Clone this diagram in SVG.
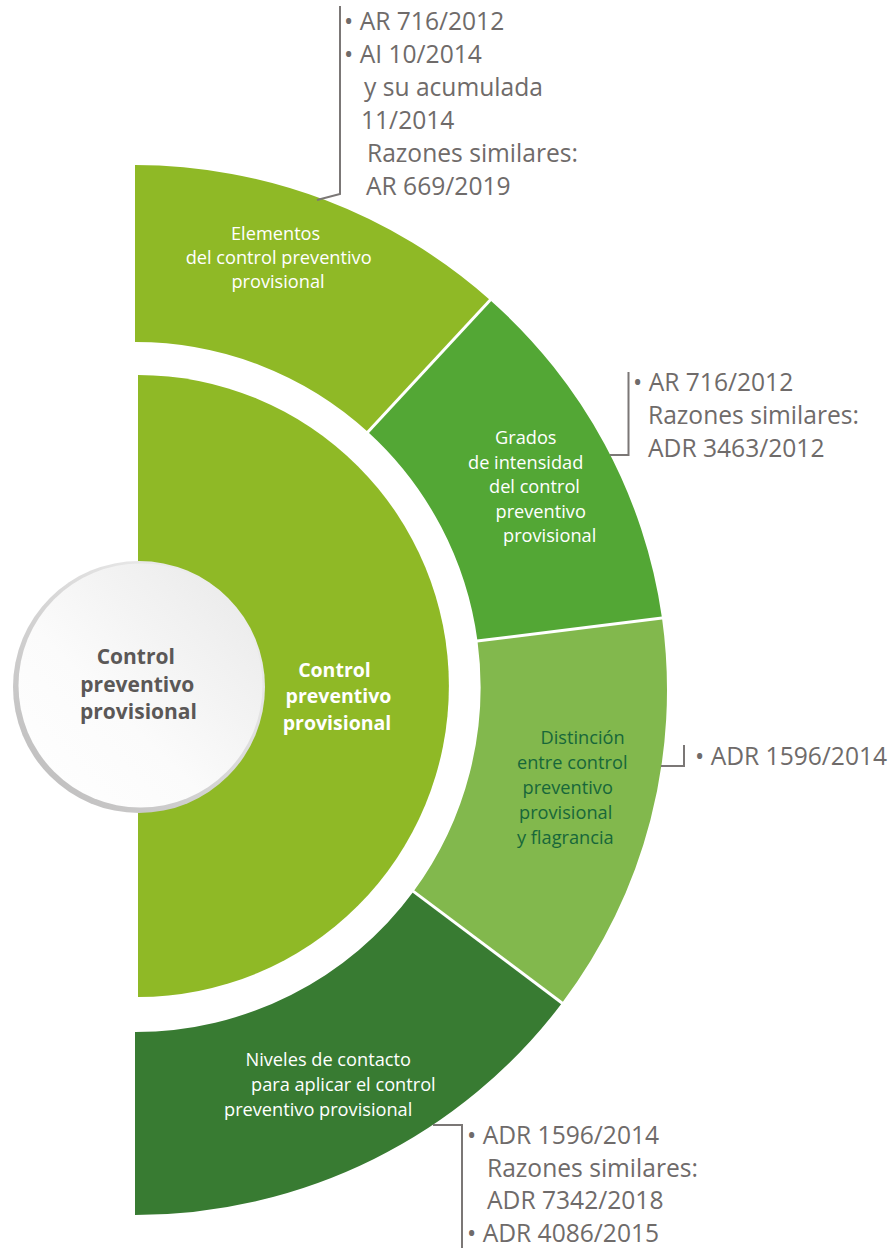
<svg xmlns="http://www.w3.org/2000/svg" width="891" height="1248" viewBox="0 0 891 1248">
  <defs>
    <linearGradient id="rimGrad" x1="1" y1="0" x2="0" y2="1">
      <stop offset="0" stop-color="#f6f6f6"/>
      <stop offset="1" stop-color="#b9b8b8"/>
    </linearGradient>
    <linearGradient id="faceGrad" x1="1" y1="0" x2="0" y2="1">
      <stop offset="0" stop-color="#e8e8e8"/>
      <stop offset="0.6" stop-color="#fbfbfb"/>
      <stop offset="1" stop-color="#ffffff"/>
    </linearGradient>
    <style>
      .seg-label { font-family: "Open Sans", "Liberation Sans", sans-serif; font-size: 18.2px; fill: #ffffff; }
      .seg-dark { fill: #17673a; }
      .hub-label { font-family: "Open Sans", "Liberation Sans", sans-serif; font-weight: bold; text-anchor: middle; }
      .ref { font-family: "Open Sans", "Liberation Sans", sans-serif; font-size: 24.6px; fill: #6f6b6a; }
      .bracket { fill: none; stroke: #7b7776; stroke-width: 2; }
      .divider { stroke: #ffffff; stroke-width: 3; }
    </style>
  </defs>

  <!-- outer ring segments -->
  <g id="seg-elementos">
    <path d="M135,165 A532,525 0 0 1 490,300 L368,432 A345,345 0 0 0 135,342 Z" fill="#8fb926"/>
    <text class="seg-label" text-anchor="middle">
      <tspan x="278" y="240">Elementos</tspan>
      <tspan x="281" y="264">del control preventivo</tspan>
      <tspan x="278" y="288">provisional</tspan>
    </text>
  </g>

  <g id="seg-grados">
    <path d="M490,300 A532,525 0 0 1 662,618 L477.5,641 A345,345 0 0 0 368,432 Z" fill="#53a735"/>
    <text class="seg-label">
      <tspan x="495" y="444">Grados</tspan>
      <tspan x="468" y="468.5">de intensidad</tspan>
      <tspan x="489" y="493">del control</tspan>
      <tspan x="495.5" y="517.5">preventivo</tspan>
      <tspan x="503" y="542">provisional</tspan>
    </text>
  </g>

  <g id="seg-distincion">
    <path d="M662,618 A532,525 0 0 1 562,1003 L413.5,891.5 A345,345 0 0 0 477.5,641 Z" fill="#82b84d"/>
    <text class="seg-label seg-dark">
      <tspan x="540.5" y="743.5">Distinción</tspan>
      <tspan x="517" y="768.5">entre control</tspan>
      <tspan x="522.5" y="793.5">preventivo</tspan>
      <tspan x="519" y="818.5">provisional</tspan>
      <tspan x="517" y="843.5">y flagrancia</tspan>
    </text>
  </g>

  <g id="seg-niveles">
    <path d="M562,1003 A532,525 0 0 1 135,1215 L135,1032 A345,345 0 0 0 413.5,891.5 Z" fill="#387b32"/>
    <text class="seg-label">
      <tspan x="245.5" y="1066">Niveles de contacto</tspan>
      <tspan x="251" y="1091">para aplicar el control</tspan>
      <tspan x="224" y="1116">preventivo provisional</tspan>
    </text>
  </g>

  <!-- white gaps between ring segments -->
  <g id="dividers">
    <line class="divider" x1="366" y1="434" x2="493" y2="297"/>
    <line class="divider" x1="475" y1="641.3" x2="666" y2="617.5"/>
    <line class="divider" x1="411" y1="889.6" x2="566" y2="1006"/>
  </g>

  <!-- inner half disc -->
  <g id="core">
    <path d="M138,375 A311,311 0 0 1 138,997 Z" fill="#8fb926"/>
    <text class="hub-label" font-size="19.5" fill="#ffffff">
      <tspan x="337" y="676.5">Control</tspan>
      <tspan x="341" y="703">preventivo</tspan>
      <tspan x="337" y="729.5">provisional</tspan>
    </text>
  </g>

  <!-- hub circle -->
  <g id="hub">
    <circle cx="139" cy="687" r="126" fill="url(#rimGrad)"/>
    <circle cx="140.5" cy="685.5" r="122" fill="url(#faceGrad)"/>
    <text class="hub-label" font-size="21" fill="#5b5857">
      <tspan x="138.5" y="663.5">Control</tspan>
      <tspan x="140" y="691.5">preventivo</tspan>
      <tspan x="138.5" y="718.5">provisional</tspan>
    </text>
  </g>

  <!-- connectors from the ring to the reference lists -->
  <g id="connectors">
    <polyline class="bracket" points="340,6 340,194 317,200"/>
    <polyline class="bracket" points="628.5,372 628.5,455 610,455"/>
    <polyline class="bracket" points="684,745 684,766 661,766"/>
    <polyline class="bracket" points="433,1125 462,1125 462,1248"/>
  </g>

  <!-- reference lists -->
  <g id="refs-elementos">
    <text class="ref">
      <tspan x="344" y="29.5">• AR 716/2012</tspan>
      <tspan x="344" y="62.5">• AI 10/2014</tspan>
      <tspan x="364" y="95.5">y su acumulada</tspan>
      <tspan x="361" y="128.5">11/2014</tspan>
      <tspan x="367" y="161.5">Razones similares:</tspan>
      <tspan x="366" y="194.5">AR 669/2019</tspan>
    </text>
  </g>

  <g id="refs-grados">
    <text class="ref">
      <tspan x="633" y="391">• AR 716/2012</tspan>
      <tspan x="648" y="424">Razones similares:</tspan>
      <tspan x="648" y="457">ADR 3463/2012</tspan>
    </text>
  </g>

  <g id="refs-distincion">
    <text class="ref">
      <tspan x="695" y="765">• ADR 1596/2014</tspan>
    </text>
  </g>

  <g id="refs-niveles">
    <text class="ref">
      <tspan x="467" y="1143.5">• ADR 1596/2014</tspan>
      <tspan x="487" y="1176.5">Razones similares:</tspan>
      <tspan x="487" y="1209">ADR 7342/2018</tspan>
      <tspan x="467" y="1242">• ADR 4086/2015</tspan>
    </text>
  </g>
</svg>
